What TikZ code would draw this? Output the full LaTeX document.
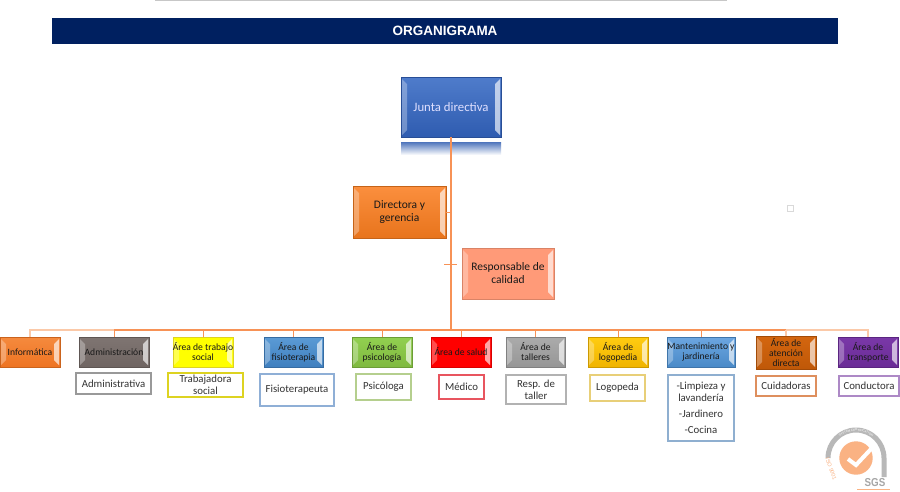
\documentclass[tikz,border=0pt]{standalone}
\usepackage{fontspec}
\setmainfont{Carlito}
\newfontfamily\titlefont{Liberation Sans}
\usetikzlibrary{calc,decorations.text}
\newcommand{\hx}[1]{\definecolor{HTML#1}{HTML}{#1}}
\hx{4F7CCB}\hx{2F5CB0}\hx{FB8F3E}\hx{E8741C}\hx{FF9A78}\hx{F58A3E}\hx{EE7422}\hx{7F7572}\hx{6F6562}
\hx{5B9BD5}\hx{3F7FBF}\hx{92D050}\hx{7FB93F}\hx{ABABAB}\hx{969696}\hx{FFCC11}\hx{F0B400}\hx{6CA6E0}\hx{4A8AC8}
\hx{D4660F}\hx{BF5808}\hx{7A38A8}\hx{6A2C96}\hx{8FAFD6}\hx{B5CF8E}\hx{E8555F}\hx{E8CF78}\hx{8FAFD0}\hx{DE8F5E}\hx{AD89C6}\hx{FAB283}
\definecolor{orangeline}{HTML}{F79256}
\definecolor{paleline}{HTML}{FBC9A8}
\definecolor{navy}{RGB}{0,32,96}
\tikzset{
  x=1pt,y=-1pt,
  link/.style={draw=orangeline,line width=1pt},
  trunk/.style={draw=orangeline,line width=2.6pt},
  lbl/.style={font=\fontsize{11.5}{13}\selectfont,align=center,text=black!90,inner sep=0pt},
  sublbl/.style={font=\fontsize{10.8}{12}\selectfont,align=center,text=black!80},
}
% \bx{name}{x1}{y1}{x2}{y2}{top}{bottom}{text}
\newcommand{\bx}[8]{%
  \node[minimum width=#4pt-#2pt,minimum height=#5pt-#3pt,inner sep=0pt,outer sep=0pt,
        top color=#6,bottom color=#7,draw=#7!85!black,line width=0.7pt] (#1) at ({(#2+#4)/2},{(#3+#5)/2}) {};
  \fill[white,opacity=.3] (#2+1,#3+2) -- (#2+6,#3+7) -- (#2+6,#5-7) -- (#2+1,#5-2) -- cycle;
  \fill[white,opacity=.65] (#4-1,#3+2) -- (#4-6,#3+7) -- (#4-6,#5-7) -- (#4-1,#5-2) -- cycle;
  \node[lbl] at (#1) {#8};
}
% \sbx{name}{x1}{y1}{x2}{y2}{border}{text}
\newcommand{\sbx}[7]{%
  \node[minimum width=#4pt-#2pt,minimum height=#5pt-#3pt,inner sep=0pt,outer sep=0pt,
        draw=#6,fill=white,line width=1.1pt,sublbl] (#1) at ({(#2+#4)/2},{(#3+#5)/2}) {#7};
}
\begin{document}
\begin{tikzpicture}
\useasboundingbox (0,0) rectangle (900,491);
\fill[white] (0,0) rectangle (900,491);
% top rule and banner
\coordinate (ruleL) at (155,0.5); \coordinate (ruleR) at (727,0.5);
\draw[black!22,line width=1pt] (ruleL) -- (ruleR);
\node[fill=navy,minimum width=786pt,minimum height=26pt,inner sep=0pt,
      text=white,font=\titlefont\bfseries\fontsize{13.5}{15}\selectfont] (banner) at (445,31) {ORGANIGRAMA};
% faint mark
\node[draw=black!15,fill=white,line width=.5pt,minimum size=6pt,inner sep=0pt] (mark) at (790,208) {};
% reflection
\shade[top color=HTML2F5CB0!85,bottom color=white] (401,142) rectangle (501,155);
% top boxes
\bx{junta}{401}{77}{501}{137}{HTML4F7CCB}{HTML2F5CB0}{\textcolor{white!88!blue}{\fontsize{12.8}{14}\selectfont Junta directiva}}
\bx{dir}{353}{186}{446}{238}{HTMLFB8F3E}{HTMLE8741C}{Directora y\\gerencia}
\bx{resp}{462}{248}{554}{299}{HTMLFF9A78}{HTMLFF9A78}{Responsable de\\calidad}
% row boxes
\tikzset{lbl/.append style={font=\fontsize{9.6}{10}\selectfont}}
\bx{inf}{0}{337}{60}{367}{HTMLF58A3E}{HTMLEE7422}{Informática}
\bx{adm}{79}{337}{149}{367}{HTML7F7572}{HTML6F6562}{Administración}
\bx{soc}{173}{337}{233}{367}{yellow}{yellow}{Área de trabajo\\social}
\bx{fis}{264}{337}{323}{367}{HTML5B9BD5}{HTML3F7FBF}{Área de\\fisioterapia}
\bx{psi}{352}{337}{412}{367}{HTML92D050}{HTML7FB93F}{Área de\\psicología}
\bx{sal}{431}{337}{491}{367}{red}{red}{Área de salud}
\bx{tal}{506}{337}{565}{367}{HTMLABABAB}{HTML969696}{Área de\\talleres}
\bx{log}{588}{337}{648}{367}{HTMLFFCC11}{HTMLF0B400}{Área de\\logopedia}
\bx{man}{667}{337}{735}{367}{HTML6CA6E0}{HTML4A8AC8}{Mantenimiento y\\jardinería}
\bx{ate}{756}{336}{816}{369}{HTMLD4660F}{HTMLBF5808}{Área de\\atención\\directa}
\bx{tra}{838}{337}{898}{367}{HTML7A38A8}{HTML6A2C96}{Área de\\transporte}
% connectors
\coordinate (hub) at (451,330);
\coordinate (dirj) at (451,212);
\coordinate (respj) at (444,264);
\coordinate (resph) at (457,264);
\draw[link] (dir.east) -- (dirj);
\draw[link] (respj) -- (resph);
\draw[paleline,line width=1.2pt] (inf.north) |- (hub);
\draw[paleline,line width=1.2pt] (tra.north) |- (hub);
\draw[link,line width=1.8pt] (adm.north |- hub) -- (ate.north |- hub);
\foreach \n in {adm,soc,fis,psi,sal,tal,log,man}{\draw[link] (\n.north) -- (\n.north |- hub);}
\draw[paleline,line width=1.2pt] (ate.north) -- (ate.north |- hub);
\draw[trunk] (junta.south) -- (hub);
% sub boxes
\sbx{sadm}{76}{373}{151}{394}{black!40}{Administrativa}
\sbx{ssoc}{168}{373}{243}{397}{yellow!85!black}{Trabajadora\\social}
\sbx{sfis}{260}{374}{334}{406}{HTML8FAFD6}{Fisioterapeuta}
\sbx{spsi}{356}{374}{411}{400}{HTMLB5CF8E}{Psicóloga}
\sbx{ssal}{439}{375}{484}{399}{HTMLE8555F}{Médico}
\sbx{stal}{506}{375}{566}{404}{black!30}{Resp. de\\taller}
\sbx{slog}{590}{375}{645}{401}{HTMLE8CF78}{Logopeda}
\sbx{sman}{668}{375}{734}{441}{HTML8FAFD0}{-Limpieza y\\lavandería\\[4pt]-Jardinero\\[4pt]-Cocina}
\sbx{sate}{756}{376}{816}{396}{HTMLDE8F5E}{Cuidadoras}
\sbx{stra}{839}{376}{899}{396}{HTMLAD89C6}{Conductora}
% SGS mark
\fill[HTMLFAB283] (856,458) circle (16.7);
\draw[white,line width=4pt] (848,459) -- (856,465) -- (871,449);
\draw[black!28,line width=5pt] (828,458) arc[start angle=180,end angle=360,radius=28] -- (884,477);
\path[decorate,decoration={text along path,text align=center,raise=-1pt,
      text={|\titlefont\fontsize{3}{3}\selectfont\color{white}|SYSTEM CERTIFICATION}}]
      (828,458) arc[start angle=180,end angle=360,radius=28];
\node[font=\titlefont\bfseries\fontsize{11.5}{12}\selectfont,text=black!35,inner sep=0pt,xscale=.85] (sgs) at (875,483) {SGS};
\coordinate (ulL) at (857,489.5); \coordinate (ulR) at (890,489.5);
\draw[HTMLFAB283,line width=.6pt] (ulL) -- (ulR);
\node[font=\titlefont\fontsize{5.5}{6}\selectfont,text=HTMLFAB283,rotate=-70,inner sep=0pt] (iso) at (831,469) {ISO 9001};
\end{tikzpicture}
\end{document}
